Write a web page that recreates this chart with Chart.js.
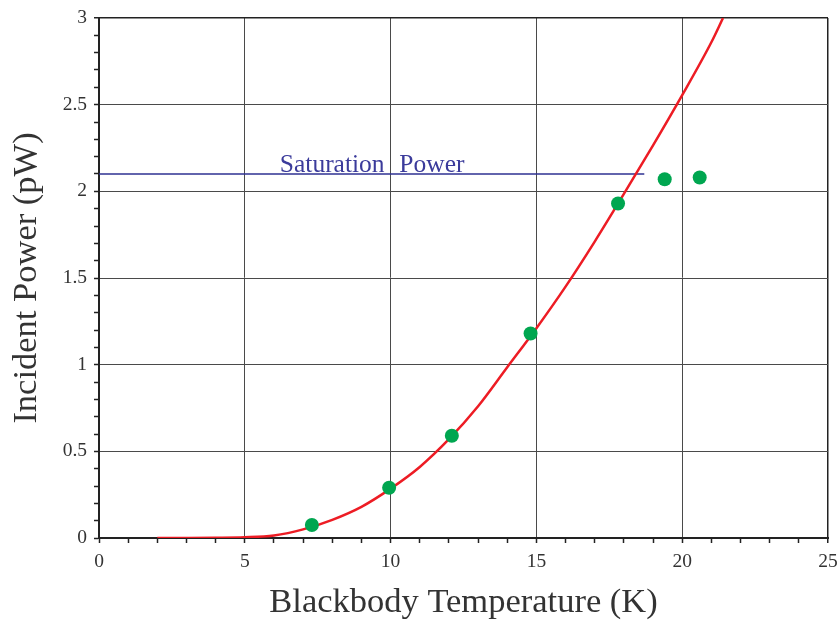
<!DOCTYPE html>
<html>
<head>
<meta charset="utf-8">
<script src="https://cdn.jsdelivr.net/npm/chart.js@4/dist/chart.umd.min.js"></script>
<style>
  body { margin: 0; background: #fff; }
</style>
</head>
<body>
<canvas id="powerChart" width="840" height="621"></canvas>
<script>
// measured points (blackbody temperature K, incident power pW)
const tempK = [7.3, 9.95, 12.1, 14.8, 17.8, 19.4, 20.6];
const powerPW = [0.075, 0.29, 0.59, 1.18, 1.93, 2.07, 2.08];

// fitted curve
const fitT = [2, 3, 4, 5, 6, 7, 8, 9, 10, 11, 12, 13, 14, 15, 16, 17, 18, 19, 20, 21, 21.4];
const fitP = [0, 0, 0.001, 0.004, 0.015, 0.05, 0.105, 0.18, 0.285, 0.41, 0.57, 0.76, 0.985, 1.21, 1.45, 1.71, 1.985, 2.265, 2.555, 2.86, 3.0];

// saturation level
const satT = [0, 18.7];
const satP = [2.1, 2.1];
const satWords = ["Saturation", "Power"];

const serif = "'Liberation Serif', 'DejaVu Serif', serif";

function toXY(xs, ys) {
  return xs.map((x, i) => ({ x: x, y: ys[i] }));
}

// label for the saturation line
const satLabel = {
  id: 'satLabel',
  afterDatasetsDraw(chart) {
    const ctx = chart.ctx;
    const xs = chart.scales.x;
    const ys = chart.scales.y;
    const y = ys.getPixelForValue(satP[0]) - 2;
    ctx.save();
    ctx.fillStyle = '#3b3b9b';
    ctx.font = '25.5px ' + serif;
    ctx.textBaseline = 'alphabetic';
    ctx.fillText(satWords[0], xs.getPixelForValue(6.2), y);
    ctx.fillText(satWords[1], xs.getPixelForValue(10.3), y);
    ctx.restore();
  }
};

let ctx = document.getElementById("powerChart").getContext("2d");
let chart = new Chart(ctx, {
  type: 'scatter',
  data: {
    datasets: [
      {
        label: 'Measured',
        data: toXY(tempK, powerPW),
        backgroundColor: '#00a650',
        borderWidth: 0,
        pointRadius: 7,
        order: 0
      },
      {
        label: 'Fit',
        data: toXY(fitT, fitP),
        showLine: true,
        borderColor: '#ed1c24',
        borderWidth: 2.5,
        pointRadius: 0,
        cubicInterpolationMode: 'monotone',
        order: 1
      },
      {
        label: 'Saturation Power',
        data: toXY(satT, satP),
        showLine: true,
        borderColor: '#2e3192',
        borderWidth: 1.5,
        pointRadius: 0,
        order: 2
      }
    ]
  },
  options: {
    responsive: false,
    animation: false,
    devicePixelRatio: 1,
    layout: { padding: { top: 18, right: 12, left: 0, bottom: 0 } },
    plugins: {
      legend: { display: false },
      tooltip: { enabled: false }
    },
    scales: {
      x: {
        type: 'linear',
        min: 0,
        max: 25,
        afterFit: (scale) => {
          scale.height = 83;
          scale.paddingLeft = 0;
          scale.paddingRight = 0;
        },
        border: { color: '#222', width: 2 },
        grid: {
          color: (c) => {
            const v = Math.round(c.tick.value);
            if (v === 25) return '#222';
            return v % 5 === 0 ? '#4a4a4a' : 'rgba(0,0,0,0)';
          },
          lineWidth: (c) => Math.round(c.tick.value) === 25 ? 1.5 : 1,
          tickColor: '#222',
          tickLength: 5,
          tickWidth: 1.5
        },
        ticks: {
          stepSize: 1,
          autoSkip: false,
          maxRotation: 0,
          padding: 7,
          color: '#333',
          font: { family: serif, size: 19.5 },
          callback: (v) => (Math.round(v) % 5 === 0 ? String(Math.round(v)) : '')
        },
        title: {
          display: true,
          text: 'Blackbody Temperature (K)',
          color: '#333',
          font: { family: serif, size: 34.5, lineHeight: 1 },
          padding: { top: 0, bottom: 1 }
        }
      },
      y: {
        type: 'linear',
        min: 0,
        max: 3,
        afterFit: (scale) => {
          scale.width = 99;
          scale.paddingTop = 0;
          scale.paddingBottom = 0;
        },
        border: { color: '#222', width: 2 },
        grid: {
          color: (c) => {
            const t = Math.round(c.tick.value * 10);
            if (t === 30) return '#222';
            return t % 5 === 0 ? '#4a4a4a' : 'rgba(0,0,0,0)';
          },
          lineWidth: (c) => Math.round(c.tick.value * 10) === 30 ? 1.5 : 1,
          tickColor: '#222',
          tickLength: 5,
          tickWidth: 1.5
        },
        ticks: {
          stepSize: 0.1,
          autoSkip: false,
          padding: 7,
          color: '#333',
          font: { family: serif, size: 19.5 },
          callback: (v) => {
            const t = Math.round(v * 10);
            return t % 5 === 0 ? String(t / 10) : '';
          }
        },
        title: {
          display: true,
          text: 'Incident Power (pW)',
          color: '#333',
          font: { family: serif, size: 34.5, lineHeight: 1 },
          padding: { top: 10, bottom: 0 }
        }
      }
    }
  },
  plugins: [satLabel]
});
</script>
</body>
</html>
